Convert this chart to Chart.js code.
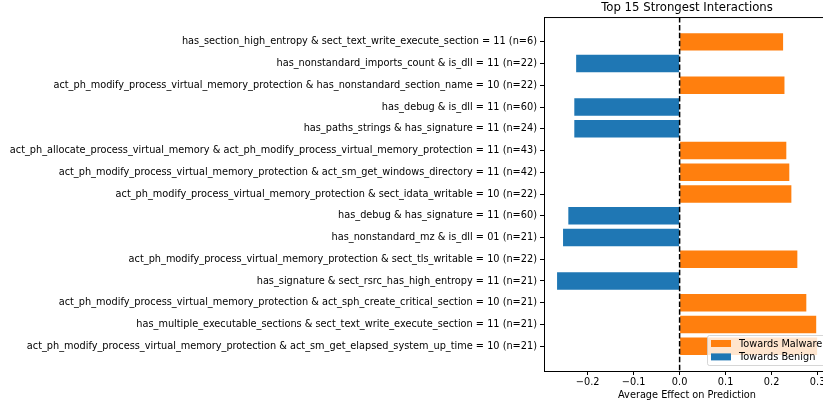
<!DOCTYPE html>
<html>
<head>
<meta charset="utf-8">
<script src="https://cdn.jsdelivr.net/npm/chart.js@4.4.1/dist/chart.umd.min.js"></script>
<style>
    html, body { margin: 0; padding: 0; background: #fff; overflow: hidden; }
    #wrap { width: 840px; height: 407px; }
</style>
</head>
<body>
<div id="wrap"><canvas id="interactionChart" width="840" height="407"></canvas></div>
<script>
// Interactions, top to bottom (sorted by absolute effect)
const interactionNames = [
    "has_section_high_entropy & sect_text_write_execute_section = 11 (n=6)",
    "has_nonstandard_imports_count & is_dll = 11 (n=22)",
    "act_ph_modify_process_virtual_memory_protection & has_nonstandard_section_name = 10 (n=22)",
    "has_debug & is_dll = 11 (n=60)",
    "has_paths_strings & has_signature = 11 (n=24)",
    "act_ph_allocate_process_virtual_memory & act_ph_modify_process_virtual_memory_protection = 11 (n=43)",
    "act_ph_modify_process_virtual_memory_protection & act_sm_get_windows_directory = 11 (n=42)",
    "act_ph_modify_process_virtual_memory_protection & sect_idata_writable = 10 (n=22)",
    "has_debug & has_signature = 11 (n=60)",
    "has_nonstandard_mz & is_dll = 01 (n=21)",
    "act_ph_modify_process_virtual_memory_protection & sect_tls_writable = 10 (n=22)",
    "has_signature & sect_rsrc_has_high_entropy = 11 (n=21)",
    "act_ph_modify_process_virtual_memory_protection & act_sph_create_critical_section = 10 (n=21)",
    "has_multiple_executable_sections & sect_text_write_execute_section = 11 (n=21)",
    "act_ph_modify_process_virtual_memory_protection & act_sm_get_elapsed_system_up_time = 10 (n=21)"
];
const avgEffects = [0.225, -0.225, 0.228, -0.229, -0.229, 0.232, 0.2385, 0.243, -0.242, -0.2535,
    0.256, -0.2665, 0.2755, 0.297, 0.299];
const xTicks = [-0.2, -0.1, 0.0, 0.1, 0.2, 0.3];

const MALWARE = "#ff7f0e";
const BENIGN = "#1f77b4";
const FONT = "'DejaVu Sans', sans-serif";
const FS = 9.75;

// split into the two legend groups
const malwarePts = [];
const benignPts = [];
avgEffects.forEach((v, i) => {
    if (v >= 0) malwarePts.push({ x: v, y: i });
    else benignPts.push({ x: v, y: i });
});

const framePlugin = {
    id: "frame",
    afterDatasetsDraw(chart) {
        const { ctx, chartArea: a, scales } = chart;
        // dashed zero line
        const x0 = scales.x.getPixelForValue(0);
        ctx.save();
        ctx.strokeStyle = "#000";
        ctx.lineWidth = 1.5;
        ctx.setLineDash([5.5, 2.4]);
        ctx.beginPath();
        ctx.moveTo(x0, a.top);
        ctx.lineTo(x0, a.bottom);
        ctx.stroke();
        ctx.restore();

        // top and right spines
        ctx.save();
        ctx.strokeStyle = "#000";
        ctx.lineWidth = 1;
        ctx.beginPath();
        ctx.moveTo(a.left, a.top + 0.5);
        ctx.lineTo(a.right, a.top + 0.5);
        ctx.lineTo(a.right, a.bottom);
        ctx.stroke();
        ctx.restore();

        // legend box, lower right inside the axes
        const items = [
            { text: "Towards Malware", color: MALWARE },
            { text: "Towards Benign", color: BENIGN }
        ];
        const w = 118, h = 30;
        const lx = a.right - 5 - w;
        const ly = a.bottom - 6 - h;
        ctx.save();
        ctx.fillStyle = "rgba(255,255,255,0.8)";
        ctx.strokeStyle = "rgba(204,204,204,0.8)";
        ctx.lineWidth = 1;
        ctx.beginPath();
        ctx.roundRect(lx + 0.5, ly + 0.5, w, h, 2);
        ctx.fill();
        ctx.stroke();
        ctx.font = FS + "px " + FONT;
        ctx.textBaseline = "middle";
        items.forEach((it, i) => {
            const cy = ly + 8.5 + i * 13.4;
            ctx.fillStyle = it.color;
            ctx.fillRect(lx + 4, cy - 3.5, 20, 7);
            ctx.fillStyle = "#000";
            ctx.fillText(it.text, lx + 32, cy + 0.5);
        });
        ctx.restore();
    }
};

new Chart(document.getElementById("interactionChart"), {
    type: "bar",
    data: {
        datasets: [
            { label: "Towards Malware", data: malwarePts, backgroundColor: MALWARE, grouped: false,
              barPercentage: 0.8, categoryPercentage: 1.0, borderWidth: 0 },
            { label: "Towards Benign", data: benignPts, backgroundColor: BENIGN, grouped: false,
              barPercentage: 0.8, categoryPercentage: 1.0, borderWidth: 0 }
        ]
    },
    options: {
        indexAxis: "y",
        responsive: false,
        animation: false,
        events: [],
        layout: { padding: { left: 0, right: 10, top: 0, bottom: 0 } },
        plugins: {
            legend: { display: false },
            tooltip: { enabled: false },
            title: {
                display: true,
                text: "Top 15 Strongest Interactions",
                fullSize: false,
                color: "#000",
                font: { family: FONT, size: 11.7, weight: "normal" },
                padding: { top: 1, bottom: 2 }
            }
        },
        scales: {
            x: {
                type: "linear",
                min: -0.2949,
                max: 0.327,
                afterBuildTicks: axis => { axis.ticks = xTicks.map(v => ({ value: v })); },
                afterFit: axis => { axis.height = 36; },
                ticks: {
                    color: "#000",
                    font: { family: FONT, size: FS },
                    padding: 2,
                    callback: v => (v < 0 ? "\u2212" : "") + Math.abs(v).toFixed(1)
                },
                grid: { drawOnChartArea: false, drawTicks: true, tickLength: 4, color: "#000" },
                border: { display: true, color: "#000", width: 1 },
                title: {
                    display: true,
                    text: "Average Effect on Prediction",
                    color: "#000",
                    font: { family: FONT, size: FS },
                    padding: { top: 0, bottom: 6 }
                }
            },
            y: {
                type: "linear",
                reverse: true,
                offset: false,
                min: -1.14,
                max: 15.14,
                afterBuildTicks: axis => { axis.ticks = interactionNames.map((_, i) => ({ value: i })); },
                afterFit: axis => { axis.width = 544; },
                ticks: {
                    autoSkip: false,
                    color: "#000",
                    font: { family: FONT, size: FS },
                    padding: 3,
                    callback: v => interactionNames[v]
                },
                grid: { offset: false, drawOnChartArea: false, drawTicks: true, tickLength: 4, color: "#000" },
                border: { display: true, color: "#000", width: 1 }
            }
        }
    },
    plugins: [framePlugin]
});
</script>
</body>
</html>
